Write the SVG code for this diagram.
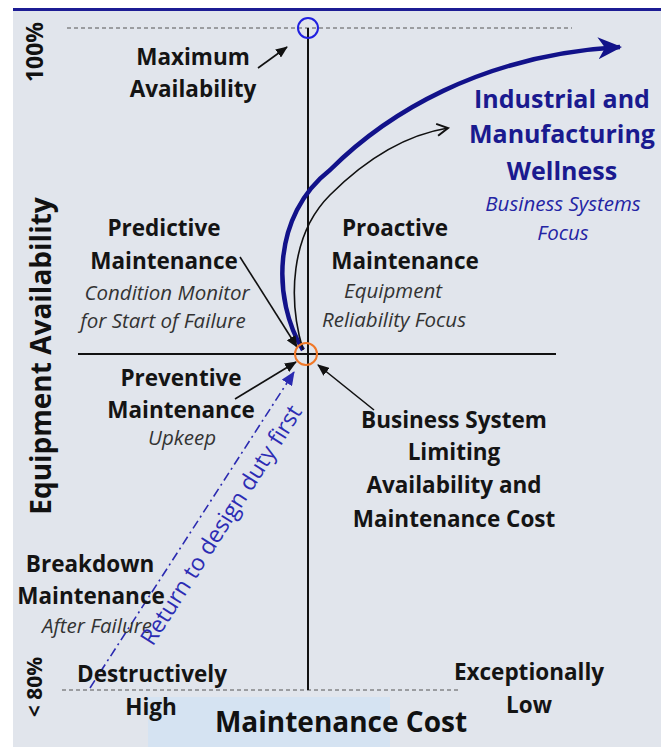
<svg xmlns="http://www.w3.org/2000/svg" width="661" height="749" viewBox="0 0 661 749">
<defs>
<style>
.b{font-family:"Open Sans","Liberation Sans",sans-serif;font-weight:700;font-size:22.5px;fill:#141414;text-anchor:middle}
.i{font-family:"Open Sans","Liberation Sans",sans-serif;font-style:italic;font-size:20.5px;fill:#333;text-anchor:middle}
.t{font-family:"Open Sans","Liberation Sans",sans-serif;font-weight:700;font-size:25px;fill:#1a1a8f;text-anchor:middle}
.ti{font-family:"Open Sans","Liberation Sans",sans-serif;font-style:italic;font-size:20.5px;fill:#2424a4;text-anchor:middle}
.ax{font-family:"Open Sans","Liberation Sans",sans-serif;font-weight:700;fill:#111;text-anchor:middle}
.dash{stroke:#555;stroke-width:1;stroke-dasharray:4 3;fill:none}
.ptr{stroke:#111;stroke-width:1.6;fill:none;marker-end:url(#ah)}
</style>
<marker id="ah" viewBox="0 0 12 10" refX="11" refY="5" markerWidth="12" markerHeight="10" markerUnits="userSpaceOnUse" orient="auto"><path d="M0,0 L12,5 L0,10 z" fill="#111"/></marker>
<marker id="ahOpen" viewBox="0 0 14 14" refX="12" refY="7" markerWidth="14" markerHeight="14" markerUnits="userSpaceOnUse" orient="auto"><path d="M1,1 L12,7 L1,13" fill="none" stroke="#111" stroke-width="2"/></marker>
<marker id="ahBlue" viewBox="0 0 24 22" refX="22" refY="11" markerWidth="24" markerHeight="22" markerUnits="userSpaceOnUse" orient="auto"><path d="M0,0 L24,11 L0,22 L7,11 z" fill="#12128a"/></marker>
<marker id="ahDash" viewBox="0 0 14 12" refX="13" refY="6" markerWidth="14" markerHeight="12" markerUnits="userSpaceOnUse" orient="auto"><path d="M0,0 L14,6 L0,12 z" fill="#2a2ab0"/></marker>
</defs>
<rect x="0" y="0" width="661" height="749" fill="#ffffff"/>
<rect x="13" y="10" width="648" height="737" fill="#e1e5ec"/>
<rect x="13" y="8" width="648" height="3" fill="#1c1c94"/>
<rect x="148" y="697" width="242" height="50" fill="#d5e3f2"/>

<g id="axes">
<line class="dash" x1="67" y1="28" x2="572" y2="28"/>
<line class="dash" x1="62" y1="690" x2="460" y2="690"/>
<line x1="308" y1="28" x2="308" y2="690" stroke="#111" stroke-width="2"/>
<line x1="78" y1="354" x2="556" y2="354" stroke="#111" stroke-width="2"/>
<circle cx="308" cy="28" r="10" fill="none" stroke="#2020e0" stroke-width="2"/>
</g>

<g id="connectors">
<path d="M303,350 C272,300 272,215 330,170 C385,115 480,55 620,47" fill="none" stroke="#12128a" stroke-width="4.5" marker-end="url(#ahBlue)"/>
<path d="M303,350 C288,300 290,235 330,195 C365,160 405,135 448,128" fill="none" stroke="#111" stroke-width="1.6" marker-end="url(#ahOpen)"/>
<line class="ptr" x1="258" y1="68" x2="287" y2="47"/>
<line class="ptr" x1="240" y1="257" x2="297" y2="347"/>
<line class="ptr" x1="235" y1="399" x2="296" y2="362"/>
<line class="ptr" x1="374" y1="410" x2="318" y2="365"/>
<line x1="90" y1="688" x2="294" y2="372" stroke="#2a2ab0" stroke-width="1.6" stroke-dasharray="9 4 2 4" marker-end="url(#ahDash)"/>
</g>

<circle id="center-point" cx="306" cy="354" r="11" fill="none" stroke="#f07828" stroke-width="2"/>

<g id="y-axis-labels">
<text class="ax" font-size="23" transform="translate(43,52) rotate(-90)">100%</text>
<text class="ax" font-size="28" transform="translate(51,356) rotate(-90)">Equipment Availability</text>
<text class="ax" font-size="21" transform="translate(42,687) rotate(-90)">&lt; 80%</text>
</g>

<g id="x-axis-labels">
<text class="ax" font-size="28" x="341" y="732">Maintenance Cost</text>
<text class="b" x="152" y="682">Destructively</text>
<text class="b" x="151" y="715">High</text>
<text class="b" x="529" y="680">Exceptionally</text>
<text class="b" x="529" y="713">Low</text>
</g>

<g id="max-availability">
<text class="b" x="193" y="65">Maximum</text>
<text class="b" x="193" y="97">Availability</text>
</g>

<g id="wellness">
<text class="t" x="562" y="108">Industrial and</text>
<text class="t" x="562" y="143">Manufacturing</text>
<text class="t" x="562" y="180">Wellness</text>
<text class="ti" x="563" y="211">Business Systems</text>
<text class="ti" x="563" y="240">Focus</text>
</g>

<g id="predictive">
<text class="b" x="164" y="236">Predictive</text>
<text class="b" x="164" y="269">Maintenance</text>
<text class="i" x="167" y="300">Condition Monitor</text>
<text class="i" x="163" y="328">for Start of Failure</text>
</g>

<g id="proactive">
<text class="b" x="395" y="236">Proactive</text>
<text class="b" x="405" y="269">Maintenance</text>
<text class="i" x="393" y="298">Equipment</text>
<text class="i" x="394" y="327">Reliability Focus</text>
</g>

<g id="preventive">
<text class="b" x="181" y="386">Preventive</text>
<text class="b" x="181" y="418">Maintenance</text>
<text class="i" x="182" y="445">Upkeep</text>
</g>

<g id="business-system">
<text class="b" x="454" y="428">Business System</text>
<text class="b" x="454" y="460">Limiting</text>
<text class="b" x="454" y="493">Availability and</text>
<text class="b" x="454" y="527">Maintenance Cost</text>
</g>

<g id="breakdown">
<text class="b" x="90" y="572">Breakdown</text>
<text class="b" x="91" y="604">Maintenance</text>
<text class="i" x="97" y="633">After Failure</text>
</g>

<g id="return-label">
<text font-family="Open Sans, Liberation Sans, sans-serif" font-size="23" fill="#2c2cb4" text-anchor="middle" transform="translate(221,525) rotate(-57.5)" y="8">Return to design duty first</text>
</g>
</svg>
